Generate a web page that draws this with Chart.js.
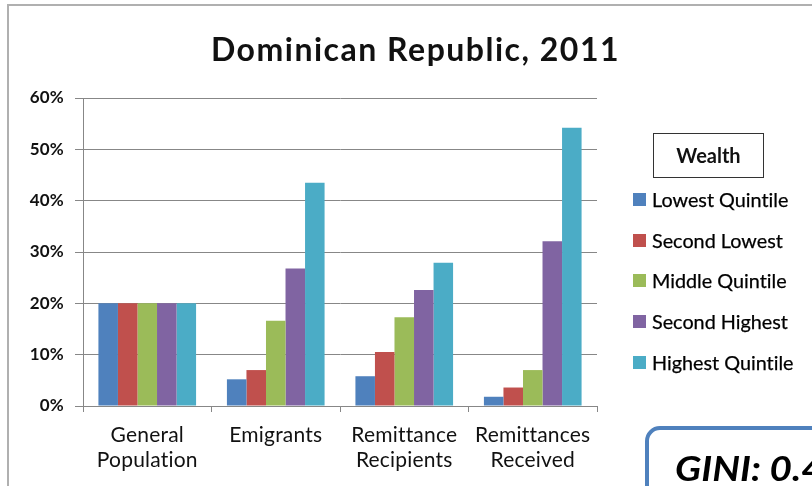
<!DOCTYPE html>
<html>
<head>
<meta charset="utf-8">
<script src="https://cdn.jsdelivr.net/npm/chart.js@4"></script>
<style>
  html, body { margin:0; padding:0; background:#fff; }
  body { width:812px; height:486px; position:relative; overflow:hidden; font-family:Lato, "Open Sans", sans-serif; font-variant-ligatures:none; }
  #frame { position:absolute; left:7px; top:4px; width:900px; height:600px; border:2px solid #b0b0b0; box-sizing:border-box; }
  #wrap { position:absolute; left:0; top:0; width:812px; height:486px; }
  #title { position:absolute; left:0; width:831px; top:33px; line-height:32px; text-align:center; font-size:32px; font-weight:bold; letter-spacing:1.5px; color:#111; }
  #legendTitle { position:absolute; left:653px; top:133px; width:111px; height:45px; border:1px solid #333; box-sizing:border-box;
                 text-align:center; line-height:43px; font-size:20px; font-weight:bold; color:#111; }
  #legend { position:absolute; left:633px; top:189px; }
  .item { position:absolute; left:0; height:20px; white-space:nowrap; font-size:19.8px; color:#000; -webkit-text-stroke:0.25px #000; }
  .sw { position:absolute; left:0; top:4px; width:13px; height:13px; }
  .lbl { position:absolute; left:19px; top:0; line-height:20px; }
  #gini { position:absolute; left:645px; top:426px; width:300px; height:120px; border:4px solid #4f81bd; border-radius:15px; box-sizing:border-box; }
  #gini span { position:absolute; left:26px; top:21px; line-height:34px; font-size:34px; font-weight:bold; font-style:italic; color:#000;
               white-space:nowrap; transform:scaleX(1.14); transform-origin:left center; }
</style>
</head>
<body>
<div id="frame"></div>
<div id="wrap"><canvas id="chart" width="812" height="486"></canvas></div>
<div id="title">Dominican Republic, 2011</div>
<div id="legendTitle">Wealth</div>
<div id="legend"></div>
<div id="gini"><span>GINI: 0.4</span></div>
<script>
// ---------- DATA ----------
const CATEGORIES = [["General","Population"],["Emigrants"],["Remittance","Recipients"],["Remittances","Received"]];
const SERIES = ["Lowest Quintile","Second Lowest","Middle Quintile","Second Highest","Highest Quintile"];
const COLORS = ["#4f81bd","#c0504d","#9bbb59","#8064a2","#4bacc6"];
const lowest   = [20, 5.2, 5.8, 1.8];
const second   = [20, 7.0, 10.5, 3.6];
const middle   = [20, 16.6, 17.3, 7.0];
const secondHi = [20, 26.8, 22.6, 32.1];
const highest  = [20, 43.5, 27.9, 54.2];
const VALUES = [lowest, second, middle, secondHi, highest];

// ---------- LEGEND ----------
const legend = document.getElementById("legend");
SERIES.forEach((s,i)=>{
  const item = document.createElement("div");
  item.className = "item";
  item.style.top = (i*40.7) + "px";
  item.innerHTML = `<div class="sw" style="background:${COLORS[i]}"></div><div class="lbl">${s}</div>`;
  legend.appendChild(item);
});

// ---------- CHART ----------
const axisColor = '#878787';
// tiny letter spacing keeps the canvas from using ligatures
const noLigatures = { id:'noLigatures', beforeDraw(chart){ chart.ctx.letterSpacing = '0.2px'; } };

new Chart(document.getElementById("chart"), {
  type:"bar",
  data:{
    labels:CATEGORIES,
    datasets:SERIES.map((s,i)=>({ label:s, data:VALUES[i], backgroundColor:COLORS[i], borderWidth:0 }))
  },
  plugins:[noLigatures],
  options:{
    responsive:false,
    animation:false,
    layout:{ padding:{ left:0, right:215, top:98, bottom:0 } },
    plugins:{ legend:{ display:false }, tooltip:{ enabled:false } },
    datasets:{ bar:{ categoryPercentage:0.76, barPercentage:1 } },
    scales:{
      x:{
        afterFit: s => { s.height = 80; },
        grid:{ offset:true, drawOnChartArea:false, drawTicks:true, tickLength:6, color:axisColor },
        border:{ color:axisColor, width:1 },
        ticks:{ color:'#111', padding:11, font:{ family:'Lato', size:21, lineHeight:1.19 }, maxRotation:0 }
      },
      y:{
        min:0, max:60,
        afterFit: s => { s.width = 83; },
        grid:{ color:axisColor, tickLength:8 },
        border:{ color:axisColor, width:1 },
        ticks:{ stepSize:10, color:'#111', padding:11, font:{ family:'Lato', size:17, weight:'bold' }, callback:v=>v+'%' }
      }
    }
  }
});
</script>
</body>
</html>
